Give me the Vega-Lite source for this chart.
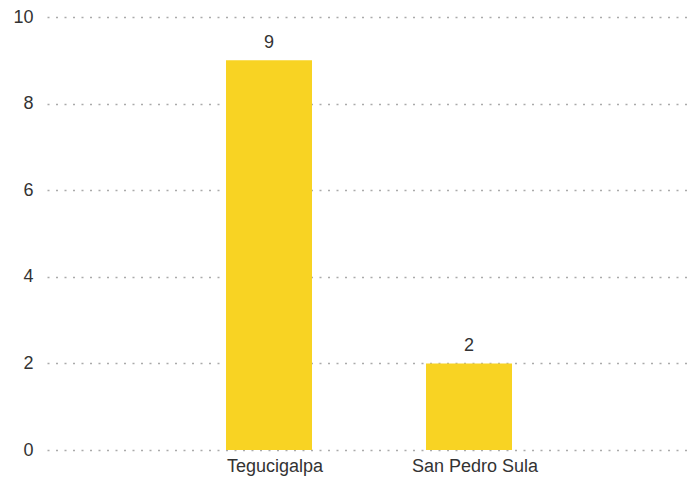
{
  "$schema": "https://vega.github.io/schema/vega-lite/v6.json",
  "autosize": "none",
  "padding": {"left": 47, "top": 17, "right": 0, "bottom": 31},
  "width": 644,
  "height": 433,
  "config": {"view": {"stroke": null}, "font": "Liberation Sans"},
  "data": {"values": [
    {"city": "Tegucigalpa", "count": 9},
    {"city": "San Pedro Sula", "count": 2}
  ]},
  "encoding": {
    "x": {"field": "city", "type": "nominal", "sort": null,
      "scale": {"paddingInner": 0.57, "paddingOuter": 0.895},
      "axis": {"title": null, "labelAngle": 0, "ticks": false, "domain": false, "labelFontSize": 18, "labelColor": "#333", "labelPadding": 7, "labelOffset": 6}},
    "y": {"field": "count", "type": "quantitative",
      "scale": {"domain": [0, 10]},
      "axis": {"title": null, "values": [0,2,4,6,8,10], "labelOverlap": false, "ticks": false, "domain": false, "labelFontSize": 18, "labelColor": "#333", "labelPadding": 14,
        "gridColor": "#aaa", "gridDash": [2, 6.5], "gridWidth": 1.5}}
  },
  "layer": [
    {"mark": {"type": "bar", "color": "#F8D323"}},
    {"mark": {"type": "text", "baseline": "bottom", "dy": -8, "fontSize": 18, "color": "#333"},
     "encoding": {"text": {"field": "count", "type": "quantitative"}}}
  ]
}
